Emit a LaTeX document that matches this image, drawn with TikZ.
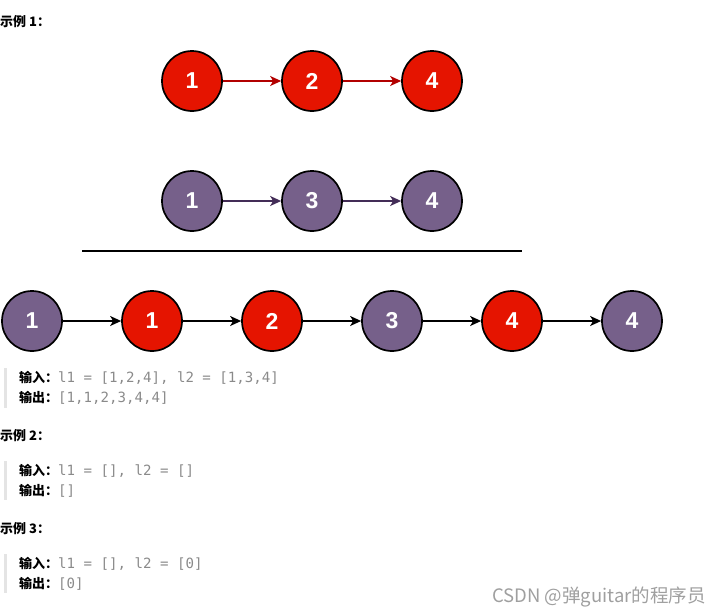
\documentclass[tikz,border=0pt]{standalone}
\usepackage{fontspec}
\setmainfont{Liberation Sans}
\setmonofont{DejaVu Sans Mono}
\newfontfamily\cjk{Noto Sans CJK SC}
\usetikzlibrary{arrows.meta}

\definecolor{nodered}{HTML}{E51400}
\definecolor{nodepurple}{HTML}{76608A}
\definecolor{arrowred}{HTML}{B20000}
\definecolor{arrowpurple}{HTML}{432D57}
\definecolor{codegray}{HTML}{8A8A8A}
\definecolor{quotebar}{HTML}{E4E4E4}

\begin{document}
\begin{tikzpicture}[x=1pt,y=-1pt,
    listnode/.style={circle,draw=black,line width=1.7pt,minimum size=60pt,inner sep=0pt,
      text=white,font=\fontsize{23}{23}\selectfont\bfseries},
    rednode/.style={listnode,fill=nodered},
    purplenode/.style={listnode,fill=nodepurple},
    link/.style={-{Stealth[length=11pt,width=10pt,inset=3pt]},line width=1.5pt},
    heading/.style={anchor=west,inner sep=0pt,font=\cjk\bfseries\fontsize{13}{13}\selectfont},
    codeline/.style={anchor=west,inner sep=0pt,font=\cjk\bfseries\fontsize{13}{13}\selectfont},
    quote/.style={quotebar,line width=3pt}]
    \useasboundingbox (0,0) rectangle (721,616);

    % first list
    \node[heading] (ex1) at (0,22) {示例 1：};
    \node[rednode] (a1) at (192,81) {1};
    \node[rednode] (a2) at (312,81) {2};
    \node[rednode] (a4) at (432,81) {4};
    \draw[link,arrowred] (a1) -- (a2);
    \draw[link,arrowred] (a2) -- (a4);

    % second list
    \node[purplenode] (b1) at (192,201) {1};
    \node[purplenode] (b3) at (312,201) {3};
    \node[purplenode] (b4) at (432,201) {4};
    \draw[link,arrowpurple] (b1) -- (b3);
    \draw[link,arrowpurple] (b3) -- (b4);

    \draw[line width=1.8pt] (82,251) -- (522,251);

    % merged list
    \node[purplenode] (m1) at (32,321) {1};
    \node[rednode] (m2) at (152,321) {1};
    \node[rednode] (m3) at (272,321) {2};
    \node[purplenode] (m4) at (392,321) {3};
    \node[rednode] (m5) at (512,321) {4};
    \node[purplenode] (m6) at (632,321) {4};
    \foreach \i/\j in {m1/m2,m2/m3,m3/m4,m4/m5,m5/m6}
      \draw[link,black] (\i) -- (\j);

    % examples
    \draw[quote] (5,368) -- (5,408);
    \node[codeline] (in1) at (19,378) {输入：{\ttfamily\mdseries\fontsize{14.1}{14.1}\selectfont\color{codegray}l1 = [1,2,4], l2 = [1,3,4]}};
    \node[codeline] (out1) at (19,398) {输出：{\ttfamily\mdseries\fontsize{14.1}{14.1}\selectfont\color{codegray}[1,1,2,3,4,4]}};

    \node[heading] (ex2) at (0,436) {示例 2：};
    \draw[quote] (5,461) -- (5,500);
    \node[codeline] (in2) at (19,471) {输入：{\ttfamily\mdseries\fontsize{14.1}{14.1}\selectfont\color{codegray}l1 = [], l2 = []}};
    \node[codeline] (out2) at (19,491) {输出：{\ttfamily\mdseries\fontsize{14.1}{14.1}\selectfont\color{codegray}[]}};

    \node[heading] (ex3) at (0,529) {示例 3：};
    \draw[quote] (5,554) -- (5,593);
    \node[codeline] (in3) at (19,564) {输入：{\ttfamily\mdseries\fontsize{14.1}{14.1}\selectfont\color{codegray}l1 = [], l2 = [0]}};
    \node[codeline] (out3) at (19,584) {输出：{\ttfamily\mdseries\fontsize{14.1}{14.1}\selectfont\color{codegray}[0]}};

    \node[anchor=east,inner sep=0pt,text=gray!75,font=\cjk\fontsize{18.5}{18.5}\selectfont] (mark) at (706,597) {CSDN @弹guitar的程序员};
\end{tikzpicture}
\end{document}
